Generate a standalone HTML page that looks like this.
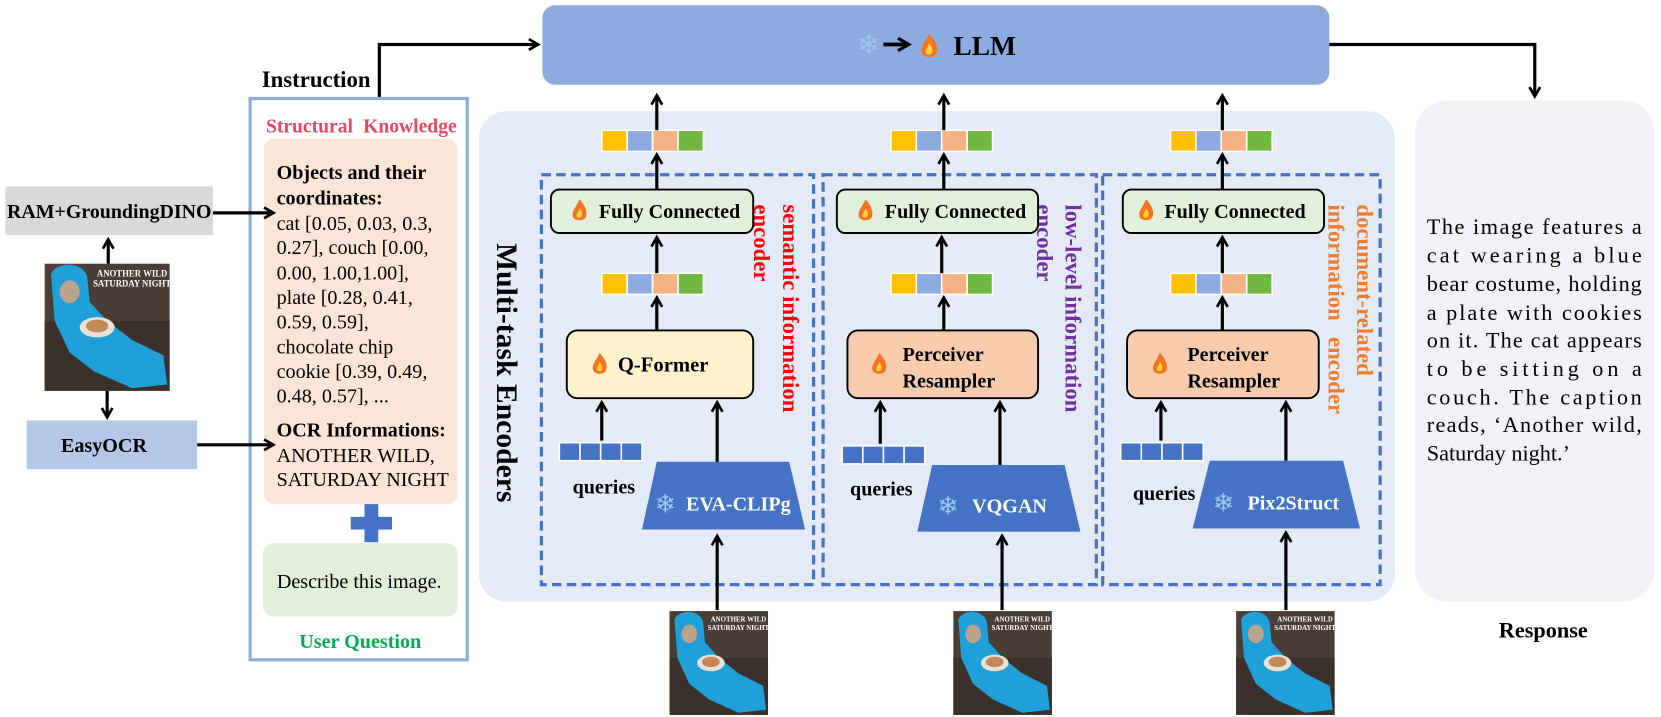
<!DOCTYPE html>
<html><head><meta charset="utf-8"><style>
html,body{margin:0;padding:0;background:#fff;}
svg{display:block;}
text{font-family:"Liberation Serif","DejaVu Serif",serif;}
.b{font-weight:bold;}
</style></head><body>
<svg width="1661" height="717" viewBox="0 0 1568 677" xmlns="http://www.w3.org/2000/svg">
<defs>
<marker id="ah" viewBox="0 0 10 10" refX="8" refY="5" markerWidth="4.2" markerHeight="4.2" orient="auto">
<path d="M1,1 L8,5 L1,9" fill="none" stroke="#000" stroke-width="2"/>
</marker>
</defs>

<!-- LLM -->
<rect x="512" y="5" width="743" height="75" rx="12" fill="#8eabe0"/>
<text x="820" y="51" font-family="DejaVu Sans" font-size="26" fill="#9dc8ee" text-anchor="middle">❄</text>
<line x1="834" y1="42" x2="858" y2="42" stroke="#000" stroke-width="3.5" marker-end="url(#ah)"/>
<g transform="translate(877,44)"><path d="M0,-12 C6,-6 9,0 7,6 C5,11 -5,11 -7,6 C-9,0 -3,-4 0,-12Z" fill="#f4731f"/><path d="M0,-3 C3,0 4,3 3,6 C1,8 -2,8 -3,6 C-4,3 -1,1 0,-3Z" fill="#ffd33a"/></g>
<text x="900" y="52" class="b" font-size="26">LLM</text>

<!-- Instruction arrow -->
<text x="247" y="82" class="b" font-size="21.5">Instruction</text>
<polyline points="358,92 358,42 508,42" fill="none" stroke="#000" stroke-width="3" marker-end="url(#ah)"/>
<polyline points="1255,42 1449,42 1449,91" fill="none" stroke="#000" stroke-width="3" marker-end="url(#ah)"/>

<!-- left column -->
<rect x="5" y="176" width="196" height="46" fill="#d9d9d9"/>
<text x="103" y="206" class="b" font-size="18.8" text-anchor="middle">RAM+GroundingDINO</text>
<rect x="25" y="397" width="161" height="46" fill="#b4c7e7"/>
<text x="98" y="427" class="b" font-size="19" text-anchor="middle">EasyOCR</text>
<line x1="102" y1="249" x2="102" y2="226" stroke="#000" stroke-width="3" marker-end="url(#ah)"/>
<line x1="101" y1="369" x2="101" y2="394" stroke="#000" stroke-width="3" marker-end="url(#ah)"/>

<!-- cat image -->
<g transform="translate(42,249) scale(1.18,1.2)">
<rect width="100" height="100" fill="#4a3d36"/><rect x="0" y="45" width="100" height="55" fill="#3b302b"/>
<path d="M5,8 C10,-2 30,-2 34,10 L36,30 L50,45 L70,60 L95,72 L98,95 L70,98 L40,85 L20,70 L8,45Z" fill="#1fa0d8"/>
<ellipse cx="20" cy="22" rx="8" ry="9" fill="#b9a38c"/>
<ellipse cx="42" cy="50" rx="14" ry="8" fill="#e9e0d6"/><ellipse cx="42" cy="49" rx="9" ry="5" fill="#c1885a"/>
<text x="70" y="10" font-family="Liberation Sans" font-size="7" font-weight="bold" fill="#fff" text-anchor="middle">ANOTHER WILD</text>
<text x="70" y="18" font-family="Liberation Sans" font-size="7" font-weight="bold" fill="#fff" text-anchor="middle">SATURDAY NIGHT</text>
</g>

<!-- instruction box -->
<rect x="236" y="93" width="205" height="530" fill="#fff" stroke="#8eabe0" stroke-width="3"/>
<text x="341" y="125" class="b" font-size="18.5" fill="#e8475f" text-anchor="middle" word-spacing="5">Structural Knowledge</text>
<rect x="249" y="131" width="183" height="345" rx="10" fill="#fbe5d6"/>
<g font-size="19">
<text x="261" y="169" class="b">Objects and their</text>
<text x="261" y="193" class="b">coordinates:</text>
<text x="261" y="217">cat [0.05, 0.03, 0.3,</text>
<text x="261" y="240">0.27],  couch [0.00,</text>
<text x="261" y="264">0.00, 1.00,1.00],</text>
<text x="261" y="287">plate [0.28, 0.41,</text>
<text x="261" y="310">0.59, 0.59],</text>
<text x="261" y="334">chocolate chip</text>
<text x="261" y="357">cookie [0.39, 0.49,</text>
<text x="261" y="380">0.48, 0.57], ...</text>
<text x="261" y="412" class="b">OCR Informations:</text>
<text x="261" y="436">ANOTHER WILD,</text>
<text x="261" y="459">SATURDAY NIGHT</text>
</g>
<line x1="201" y1="201" x2="258" y2="201" stroke="#000" stroke-width="3" marker-end="url(#ah)"/>
<line x1="186" y1="420" x2="258" y2="420" stroke="#000" stroke-width="3" marker-end="url(#ah)"/>
<rect x="331" y="488" width="39" height="12" fill="#4472c4"/><rect x="344" y="476" width="13" height="36" fill="#4472c4"/>
<rect x="248" y="513" width="184" height="69" rx="10" fill="#e2efda"/>
<text x="339" y="555" font-size="19" text-anchor="middle">Describe this image.</text>
<text x="340" y="612" class="b" font-size="19" fill="#00b050" text-anchor="middle">User Question</text>

<!-- encoders bg -->
<rect x="452" y="105" width="865" height="463" rx="26" fill="#e4ebf7"/>
<text transform="translate(469,352) rotate(90)" class="b" font-size="28" text-anchor="middle">Multi-task Encoders</text>

<g fill="none" stroke="#4472c4" stroke-width="3" stroke-dasharray="9,5">
<rect x="511" y="165" width="257" height="387"/>
<rect x="777" y="165" width="258" height="387"/>
<rect x="1041" y="165" width="262" height="387"/>
</g>

<!-- vertical labels -->
<g class="b" font-size="21.5">
<text transform="translate(739,193) rotate(90)" fill="#ff0000">semantic information</text>
<text transform="translate(712,193) rotate(90)" fill="#ff0000">encoder</text>
<text transform="translate(1006,193) rotate(90)" fill="#7030a0">low-level information</text>
<text transform="translate(979,193) rotate(90)" fill="#7030a0">encoder</text>
<text transform="translate(1281,193) rotate(90)" fill="#ed7d31">document-related</text>
<text transform="translate(1254,193) rotate(90)" fill="#ed7d31" word-spacing="10">information encoder</text>
</g>

<g id="col1">
<g stroke="#fff" stroke-width="1.5">
<rect x="568" y="123" width="24" height="20" fill="#ffc000"/><rect x="592" y="123" width="24" height="20" fill="#8eabe0"/><rect x="616" y="123" width="24" height="20" fill="#f4b183"/><rect x="640" y="123" width="24" height="20" fill="#70b840"/>
<rect x="568" y="258" width="24" height="20" fill="#ffc000"/><rect x="592" y="258" width="24" height="20" fill="#8eabe0"/><rect x="616" y="258" width="24" height="20" fill="#f4b183"/><rect x="640" y="258" width="24" height="20" fill="#70b840"/>
<rect x="528" y="418" width="19.5" height="17" fill="#4472c4"/><rect x="547.5" y="418" width="19.5" height="17" fill="#4472c4"/><rect x="567" y="418" width="19.5" height="17" fill="#4472c4"/><rect x="586.5" y="418" width="19.5" height="17" fill="#4472c4"/>
</g>
<g stroke="#000" stroke-width="3" marker-end="url(#ah)">
<line x1="620" y1="123" x2="620" y2="90"/>
<line x1="620" y1="179" x2="620" y2="146"/>
<line x1="620" y1="258" x2="620" y2="224"/>
<line x1="620" y1="312" x2="620" y2="281"/>
<line x1="568" y1="416" x2="568" y2="380"/>
<line x1="677" y1="440" x2="677" y2="380"/>
<line x1="677" y1="576" x2="677" y2="506"/>
</g>
<rect x="520" y="179" width="191" height="41" rx="8" fill="#e2efda" stroke="#000" stroke-width="1.8"/>
<g transform="translate(547,199)"><path d="M0,-11 C5,-5 8,0 6,6 C4,10 -4,10 -6,6 C-8,0 -3,-3 0,-11Z" fill="#f4731f"/><path d="M0,-2 C2,0 3,3 2,5 C1,7 -2,7 -3,5 C-3,3 -1,1 0,-2Z" fill="#ffd33a"/></g>
<text x="632" y="206" class="b" font-size="19" text-anchor="middle">Fully Connected</text>
<rect x="535" y="312" width="176" height="64" rx="10" fill="#fff2cc" stroke="#000" stroke-width="1.8"/>
<g transform="translate(566,344)"><path d="M0,-11 C5,-5 8,0 6,6 C4,10 -4,10 -6,6 C-8,0 -3,-3 0,-11Z" fill="#f4731f"/><path d="M0,-2 C2,0 3,3 2,5 C1,7 -2,7 -3,5 C-3,3 -1,1 0,-2Z" fill="#ffd33a"/></g>
<text x="626" y="351" class="b" font-size="19.5" text-anchor="middle">Q-Former</text>
<path d="M620,436 L745,436 L760,500 L606,500Z" fill="#4472c4"/>
<text x="628" y="484" font-family="DejaVu Sans" font-size="24" fill="#9dc8ee" text-anchor="middle">❄</text>
<text x="697" y="482" class="b" font-size="19" fill="#fff" text-anchor="middle">EVA-CLIPg</text>
<text x="570" y="466" class="b" font-size="19" text-anchor="middle">queries</text>
</g>

<g id="col2">
<g stroke="#fff" stroke-width="1.5">
<rect x="841" y="123" width="24" height="20" fill="#ffc000"/><rect x="865" y="123" width="24" height="20" fill="#8eabe0"/><rect x="889" y="123" width="24" height="20" fill="#f4b183"/><rect x="913" y="123" width="24" height="20" fill="#70b840"/>
<rect x="841" y="258" width="24" height="20" fill="#ffc000"/><rect x="865" y="258" width="24" height="20" fill="#8eabe0"/><rect x="889" y="258" width="24" height="20" fill="#f4b183"/><rect x="913" y="258" width="24" height="20" fill="#70b840"/>
<rect x="795" y="421" width="19.5" height="17" fill="#4472c4"/><rect x="814.5" y="421" width="19.5" height="17" fill="#4472c4"/><rect x="834" y="421" width="19.5" height="17" fill="#4472c4"/><rect x="853.5" y="421" width="19.5" height="17" fill="#4472c4"/>
</g>
<g stroke="#000" stroke-width="3" marker-end="url(#ah)">
<line x1="891" y1="123" x2="891" y2="90"/>
<line x1="891" y1="179" x2="891" y2="146"/>
<line x1="889" y1="258" x2="889" y2="224"/>
<line x1="891" y1="312" x2="891" y2="281"/>
<line x1="831" y1="419" x2="831" y2="380"/>
<line x1="944" y1="440" x2="944" y2="380"/>
<line x1="946" y1="576" x2="946" y2="506"/>
</g>
<rect x="790" y="179" width="190" height="41" rx="8" fill="#e2efda" stroke="#000" stroke-width="1.8"/>
<g transform="translate(817,199)"><path d="M0,-11 C5,-5 8,0 6,6 C4,10 -4,10 -6,6 C-8,0 -3,-3 0,-11Z" fill="#f4731f"/><path d="M0,-2 C2,0 3,3 2,5 C1,7 -2,7 -3,5 C-3,3 -1,1 0,-2Z" fill="#ffd33a"/></g>
<text x="902" y="206" class="b" font-size="19" text-anchor="middle">Fully Connected</text>
<rect x="800" y="312" width="180" height="64" rx="10" fill="#f8cbad" stroke="#000" stroke-width="1.8"/>
<g transform="translate(830,344)"><path d="M0,-11 C5,-5 8,0 6,6 C4,10 -4,10 -6,6 C-8,0 -3,-3 0,-11Z" fill="#f4731f"/><path d="M0,-2 C2,0 3,3 2,5 C1,7 -2,7 -3,5 C-3,3 -1,1 0,-2Z" fill="#ffd33a"/></g>
<text x="852" y="341" class="b" font-size="19">Perceiver</text>
<text x="852" y="366" class="b" font-size="19">Resampler</text>
<path d="M880,439 L1005,439 L1020,502 L866,502Z" fill="#4472c4"/>
<text x="895" y="486" font-family="DejaVu Sans" font-size="24" fill="#9dc8ee" text-anchor="middle">❄</text>
<text x="953" y="484" class="b" font-size="19" fill="#fff" text-anchor="middle">VQGAN</text>
<text x="832" y="468" class="b" font-size="19" text-anchor="middle">queries</text>
</g>

<g id="col3">
<g stroke="#fff" stroke-width="1.5">
<rect x="1105" y="123" width="24" height="20" fill="#ffc000"/><rect x="1129" y="123" width="24" height="20" fill="#8eabe0"/><rect x="1153" y="123" width="24" height="20" fill="#f4b183"/><rect x="1177" y="123" width="24" height="20" fill="#70b840"/>
<rect x="1105" y="258" width="24" height="20" fill="#ffc000"/><rect x="1129" y="258" width="24" height="20" fill="#8eabe0"/><rect x="1153" y="258" width="24" height="20" fill="#f4b183"/><rect x="1177" y="258" width="24" height="20" fill="#70b840"/>
<rect x="1058" y="418" width="19.5" height="17" fill="#4472c4"/><rect x="1077.5" y="418" width="19.5" height="17" fill="#4472c4"/><rect x="1097" y="418" width="19.5" height="17" fill="#4472c4"/><rect x="1116.5" y="418" width="19.5" height="17" fill="#4472c4"/>
</g>
<g stroke="#000" stroke-width="3" marker-end="url(#ah)">
<line x1="1154" y1="123" x2="1154" y2="90"/>
<line x1="1154" y1="179" x2="1154" y2="146"/>
<line x1="1154" y1="258" x2="1154" y2="224"/>
<line x1="1154" y1="312" x2="1154" y2="281"/>
<line x1="1096" y1="416" x2="1096" y2="380"/>
<line x1="1214" y1="435" x2="1214" y2="380"/>
<line x1="1214" y1="576" x2="1214" y2="503"/>
</g>
<rect x="1060" y="179" width="190" height="41" rx="8" fill="#e2efda" stroke="#000" stroke-width="1.8"/>
<g transform="translate(1082,199)"><path d="M0,-11 C5,-5 8,0 6,6 C4,10 -4,10 -6,6 C-8,0 -3,-3 0,-11Z" fill="#f4731f"/><path d="M0,-2 C2,0 3,3 2,5 C1,7 -2,7 -3,5 C-3,3 -1,1 0,-2Z" fill="#ffd33a"/></g>
<text x="1166" y="206" class="b" font-size="19" text-anchor="middle">Fully Connected</text>
<rect x="1064" y="312" width="181" height="64" rx="10" fill="#f8cbad" stroke="#000" stroke-width="1.8"/>
<g transform="translate(1095,344)"><path d="M0,-11 C5,-5 8,0 6,6 C4,10 -4,10 -6,6 C-8,0 -3,-3 0,-11Z" fill="#f4731f"/><path d="M0,-2 C2,0 3,3 2,5 C1,7 -2,7 -3,5 C-3,3 -1,1 0,-2Z" fill="#ffd33a"/></g>
<text x="1121" y="341" class="b" font-size="19">Perceiver</text>
<text x="1121" y="366" class="b" font-size="19">Resampler</text>
<path d="M1142,435 L1268,435 L1284,499 L1126,499Z" fill="#4472c4"/>
<text x="1155" y="483" font-family="DejaVu Sans" font-size="24" fill="#9dc8ee" text-anchor="middle">❄</text>
<text x="1221" y="481" class="b" font-size="19" fill="#fff" text-anchor="middle">Pix2Struct</text>
<text x="1099" y="472" class="b" font-size="19" text-anchor="middle">queries</text>
</g>

<!-- bottom cat images -->
<g transform="translate(632,577) scale(0.93,0.98)">
<rect width="100" height="100" fill="#4a3d36"/><rect x="0" y="45" width="100" height="55" fill="#3b302b"/>
<path d="M5,8 C10,-2 30,-2 34,10 L36,30 L50,45 L70,60 L95,72 L98,95 L70,98 L40,85 L20,70 L8,45Z" fill="#1fa0d8"/>
<ellipse cx="20" cy="22" rx="8" ry="9" fill="#b9a38c"/>
<ellipse cx="42" cy="50" rx="14" ry="8" fill="#e9e0d6"/><ellipse cx="42" cy="49" rx="9" ry="5" fill="#c1885a"/>
<text x="70" y="10" font-family="Liberation Sans" font-size="7" font-weight="bold" fill="#fff" text-anchor="middle">ANOTHER WILD</text>
<text x="70" y="18" font-family="Liberation Sans" font-size="7" font-weight="bold" fill="#fff" text-anchor="middle">SATURDAY NIGHT</text>
</g>
<g transform="translate(900,577) scale(0.93,0.98)">
<rect width="100" height="100" fill="#4a3d36"/><rect x="0" y="45" width="100" height="55" fill="#3b302b"/>
<path d="M5,8 C10,-2 30,-2 34,10 L36,30 L50,45 L70,60 L95,72 L98,95 L70,98 L40,85 L20,70 L8,45Z" fill="#1fa0d8"/>
<ellipse cx="20" cy="22" rx="8" ry="9" fill="#b9a38c"/>
<ellipse cx="42" cy="50" rx="14" ry="8" fill="#e9e0d6"/><ellipse cx="42" cy="49" rx="9" ry="5" fill="#c1885a"/>
<text x="70" y="10" font-family="Liberation Sans" font-size="7" font-weight="bold" fill="#fff" text-anchor="middle">ANOTHER WILD</text>
<text x="70" y="18" font-family="Liberation Sans" font-size="7" font-weight="bold" fill="#fff" text-anchor="middle">SATURDAY NIGHT</text>
</g>
<g transform="translate(1167,577) scale(0.93,0.98)">
<rect width="100" height="100" fill="#4a3d36"/><rect x="0" y="45" width="100" height="55" fill="#3b302b"/>
<path d="M5,8 C10,-2 30,-2 34,10 L36,30 L50,45 L70,60 L95,72 L98,95 L70,98 L40,85 L20,70 L8,45Z" fill="#1fa0d8"/>
<ellipse cx="20" cy="22" rx="8" ry="9" fill="#b9a38c"/>
<ellipse cx="42" cy="50" rx="14" ry="8" fill="#e9e0d6"/><ellipse cx="42" cy="49" rx="9" ry="5" fill="#c1885a"/>
<text x="70" y="10" font-family="Liberation Sans" font-size="7" font-weight="bold" fill="#fff" text-anchor="middle">ANOTHER WILD</text>
<text x="70" y="18" font-family="Liberation Sans" font-size="7" font-weight="bold" fill="#fff" text-anchor="middle">SATURDAY NIGHT</text>
</g>

<!-- response -->
<rect x="1336" y="95" width="226" height="473" rx="30" fill="#f0f2f7"/>
<g font-size="21">
<text x="1347" y="221" textLength="203" lengthAdjust="spacing">The image features a</text>
<text x="1347" y="248" textLength="203" lengthAdjust="spacing">cat wearing a blue</text>
<text x="1347" y="275" textLength="203" lengthAdjust="spacing">bear costume, holding</text>
<text x="1347" y="302" textLength="203" lengthAdjust="spacing">a plate with cookies</text>
<text x="1347" y="328" textLength="203" lengthAdjust="spacing">on it. The cat appears</text>
<text x="1347" y="355" textLength="203" lengthAdjust="spacing">to be sitting on a</text>
<text x="1347" y="382" textLength="203" lengthAdjust="spacing">couch. The caption</text>
<text x="1347" y="408" textLength="203" lengthAdjust="spacing">reads, ‘Another wild,</text>
<text x="1347" y="435">Saturday night.’</text>
</g>
<text x="1457" y="602" class="b" font-size="21" text-anchor="middle">Response</text>
</svg>
</body></html>
